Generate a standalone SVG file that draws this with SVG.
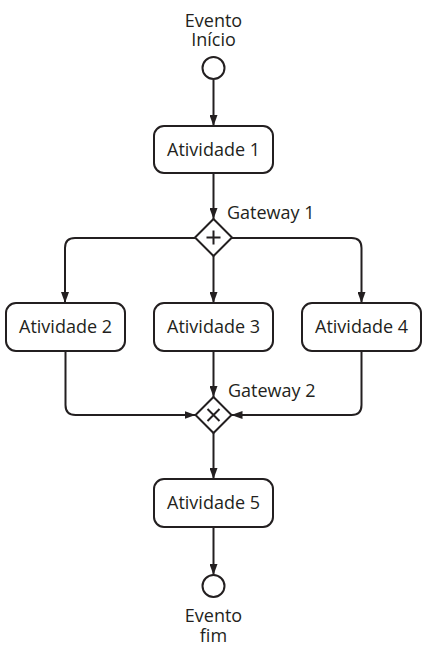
<svg xmlns="http://www.w3.org/2000/svg" width="426" height="650" viewBox="0 0 426 650">
<style>
.shape{fill:#fff;stroke:#231f20;stroke-width:2}
.line{fill:none;stroke:#231f20;stroke-width:2}
.mark{fill:none;stroke:#231f20;stroke-width:2}
text{font-family:"Open Sans","Noto Sans","DejaVu Sans",sans-serif;font-size:18px;fill:#231f20}
.c{text-anchor:middle}
</style>
<defs>
<marker id="arr" markerUnits="userSpaceOnUse" markerWidth="11" markerHeight="8" refX="11" refY="4" orient="auto">
<path d="M0,0 L11,4 L0,8 z" fill="#231f20"/>
</marker>
</defs>
<rect width="426" height="650" fill="#fff"/>
<g id="connectors">
<path class="line" marker-end="url(#arr)" d="M213.5 80 V126"/>
<path class="line" marker-end="url(#arr)" d="M213.5 173 V219"/>
<path class="line" marker-end="url(#arr)" d="M195 238 H75 Q65 238 65 248 V303"/>
<path class="line" marker-end="url(#arr)" d="M213.5 256 V303"/>
<path class="line" marker-end="url(#arr)" d="M232 238 H351.5 Q361.5 238 361.5 248 V303"/>
<path class="line" marker-end="url(#arr)" d="M65.5 351 V405 Q65.5 415 75.5 415 H195.5"/>
<path class="line" marker-end="url(#arr)" d="M213.5 351 V397"/>
<path class="line" marker-end="url(#arr)" d="M361.5 351 V405 Q361.5 415 351.5 415 H231.5"/>
<path class="line" marker-end="url(#arr)" d="M213.5 433 V479"/>
<path class="line" marker-end="url(#arr)" d="M213.5 527 V575"/>
</g>
<g id="start">
<circle class="shape" cx="213.5" cy="68" r="11"/>
<text class="c" x="213.5" y="27"><tspan x="213.5">Evento</tspan><tspan x="213.5" dy="19">Início</tspan></text>
</g>
<g id="atividade1">
<rect class="shape" x="154" y="126" width="119" height="47" rx="10"/>
<text class="c" x="213.5" y="156">Atividade 1</text>
</g>
<g id="gateway1">
<path class="shape" d="M213.5 219 L232 237.5 L213.5 256 L195 237.5 Z"/>
<path class="mark" d="M213.5 230.5 V244.5 M206.5 237.5 H220.5"/>
<text x="227" y="219">Gateway 1</text>
</g>
<g id="atividade2">
<rect class="shape" x="6" y="303" width="119" height="48" rx="10"/>
<text class="c" x="65.5" y="333">Atividade 2</text>
</g>
<g id="atividade3">
<rect class="shape" x="154" y="303" width="119" height="48" rx="10"/>
<text class="c" x="213.5" y="333">Atividade 3</text>
</g>
<g id="atividade4">
<rect class="shape" x="302" y="303" width="119" height="48" rx="10"/>
<text class="c" x="361.5" y="333">Atividade 4</text>
</g>
<g id="gateway2">
<path class="shape" d="M213.5 397 L231.5 415 L213.5 433 L195.5 415 Z"/>
<path class="mark" d="M207.5 409 L219.5 421 M219.5 409 L207.5 421"/>
<text x="228" y="397">Gateway 2</text>
</g>
<g id="atividade5">
<rect class="shape" x="154" y="479" width="119" height="48" rx="10"/>
<text class="c" x="213.5" y="509">Atividade 5</text>
</g>
<g id="end">
<circle class="shape" cx="213.5" cy="586" r="11"/>
<text class="c" x="213.5" y="622"><tspan x="213.5">Evento</tspan><tspan x="213.5" dy="20">fim</tspan></text>
</g>
</svg>
